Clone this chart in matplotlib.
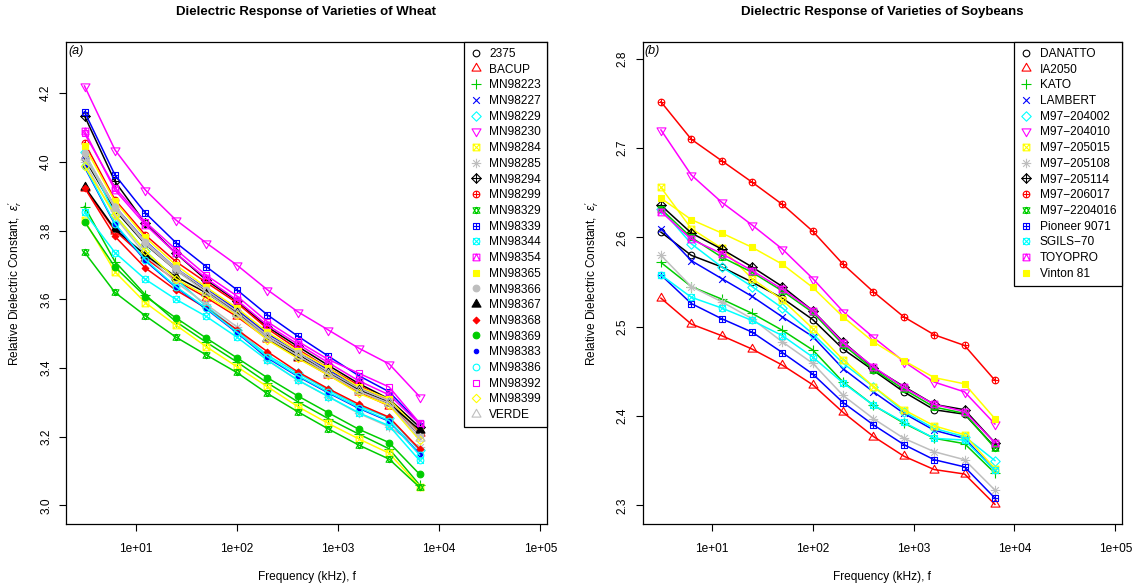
import numpy as np
import matplotlib
matplotlib.use('Agg')
import matplotlib.pyplot as plt
from matplotlib.path import Path
from matplotlib.markers import MarkerStyle
from matplotlib.lines import Line2D
from matplotlib.ticker import NullLocator

plt.rcParams['font.family'] = ['Liberation Sans', 'DejaVu Sans']
plt.rcParams['mathtext.fontset'] = 'custom'
plt.rcParams['mathtext.rm'] = 'Liberation Sans'
plt.rcParams['mathtext.it'] = 'Liberation Sans:italic'

# ---------------- data ----------------
freq = [3.125, 6.25, 12.5, 25, 50, 100, 200, 400, 800, 1600, 3200, 6400]

wheat_names = ["2375", "BACUP", "MN98223", "MN98227", "MN98229", "MN98230",
               "MN98284", "MN98285", "MN98294", "MN98299", "MN98329", "MN98339",
               "MN98344", "MN98354", "MN98365", "MN98366", "MN98367", "MN98368",
               "MN98369", "MN98383", "MN98386", "MN98392", "MN98399", "VERDE"]

w_2375    = [4.010, 3.860, 3.760, 3.685, 3.625, 3.565, 3.495, 3.440, 3.390, 3.340, 3.300, 3.205]
w_BACUP   = [3.925, 3.800, 3.720, 3.655, 3.605, 3.550, 3.485, 3.430, 3.380, 3.330, 3.290, 3.210]
w_MN98223 = [3.870, 3.710, 3.613, 3.535, 3.475, 3.418, 3.357, 3.302, 3.253, 3.208, 3.165, 3.060]
w_MN98227 = [4.020, 3.870, 3.770, 3.690, 3.630, 3.570, 3.500, 3.445, 3.395, 3.345, 3.305, 3.215]
w_MN98229 = [4.030, 3.846, 3.740, 3.660, 3.580, 3.510, 3.438, 3.385, 3.336, 3.290, 3.255, 3.160]
w_MN98230 = [4.221, 4.035, 3.918, 3.831, 3.764, 3.700, 3.628, 3.564, 3.511, 3.458, 3.412, 3.317]
w_MN98284 = [3.830, 3.680, 3.590, 3.525, 3.462, 3.404, 3.346, 3.288, 3.239, 3.194, 3.152, 3.055]
w_MN98285 = [4.000, 3.840, 3.730, 3.650, 3.585, 3.520, 3.423, 3.365, 3.317, 3.268, 3.229, 3.170]
w_MN98294 = [4.134, 3.943, 3.821, 3.734, 3.656, 3.595, 3.520, 3.463, 3.408, 3.355, 3.310, 3.228]
w_MN98299 = [4.056, 3.890, 3.787, 3.710, 3.649, 3.590, 3.515, 3.455, 3.400, 3.350, 3.305, 3.215]
w_MN98329 = [3.737, 3.620, 3.552, 3.490, 3.438, 3.387, 3.326, 3.273, 3.223, 3.176, 3.135, 3.053]
w_MN98339 = [4.146, 3.962, 3.851, 3.765, 3.695, 3.628, 3.555, 3.493, 3.435, 3.378, 3.331, 3.239]
w_MN98344 = [3.853, 3.736, 3.658, 3.600, 3.550, 3.490, 3.423, 3.365, 3.317, 3.270, 3.232, 3.131]
w_MN98354 = [4.090, 3.918, 3.817, 3.734, 3.661, 3.598, 3.525, 3.470, 3.416, 3.363, 3.322, 3.237]
w_MN98365 = [4.045, 3.885, 3.780, 3.700, 3.635, 3.575, 3.505, 3.450, 3.400, 3.345, 3.310, 3.215]
w_MN98366 = [4.025, 3.870, 3.768, 3.690, 3.627, 3.565, 3.495, 3.445, 3.390, 3.340, 3.305, 3.205]
w_MN98367 = [3.928, 3.804, 3.729, 3.666, 3.619, 3.560, 3.487, 3.433, 3.385, 3.336, 3.297, 3.220]
w_MN98368 = [3.925, 3.783, 3.691, 3.627, 3.574, 3.512, 3.448, 3.389, 3.340, 3.295, 3.257, 3.164]
w_MN98369 = [3.826, 3.694, 3.608, 3.546, 3.487, 3.430, 3.372, 3.319, 3.270, 3.222, 3.183, 3.091]
w_MN98383 = [3.985, 3.818, 3.712, 3.635, 3.572, 3.503, 3.430, 3.376, 3.328, 3.283, 3.245, 3.150]
w_MN98386 = [3.988, 3.820, 3.715, 3.637, 3.574, 3.505, 3.433, 3.378, 3.330, 3.285, 3.247, 3.147]
w_MN98392 = [4.083, 3.925, 3.825, 3.745, 3.670, 3.610, 3.535, 3.478, 3.425, 3.385, 3.345, 3.240]
w_MN98399 = [3.988, 3.846, 3.740, 3.660, 3.610, 3.555, 3.482, 3.428, 3.380, 3.326, 3.292, 3.190]
w_VERDE   = [4.015, 3.865, 3.762, 3.685, 3.620, 3.558, 3.488, 3.436, 3.384, 3.333, 3.298, 3.195]

wheat_series = [w_2375, w_BACUP, w_MN98223, w_MN98227, w_MN98229, w_MN98230,
                w_MN98284, w_MN98285, w_MN98294, w_MN98299, w_MN98329, w_MN98339,
                w_MN98344, w_MN98354, w_MN98365, w_MN98366, w_MN98367, w_MN98368,
                w_MN98369, w_MN98383, w_MN98386, w_MN98392, w_MN98399, w_VERDE]

soy_names = ["DANATTO", "IA2050", "KATO", "LAMBERT", "M97\u2212204002", "M97\u2212204010",
             "M97\u2212205015", "M97\u2212205108", "M97\u2212205114", "M97\u2212206017",
             "M97\u22122204016", "Pioneer 9071", "SGILS\u221270", "TOYOPRO", "Vinton 81"]

s_DANATTO  = [2.606, 2.580, 2.567, 2.550, 2.532, 2.508, 2.475, 2.451, 2.427, 2.407, 2.402, 2.365]
s_IA2050   = [2.532, 2.503, 2.490, 2.475, 2.457, 2.435, 2.404, 2.377, 2.355, 2.340, 2.335, 2.301]
s_KATO     = [2.572, 2.545, 2.531, 2.515, 2.496, 2.474, 2.438, 2.412, 2.392, 2.375, 2.369, 2.336]
s_LAMBERT  = [2.610, 2.574, 2.554, 2.534, 2.511, 2.489, 2.453, 2.427, 2.403, 2.384, 2.375, 2.339]
s_204002   = [2.632, 2.593, 2.567, 2.545, 2.521, 2.492, 2.459, 2.433, 2.405, 2.386, 2.377, 2.350]
s_204010   = [2.7205, 2.670, 2.6395, 2.614, 2.587, 2.554, 2.517, 2.488, 2.461, 2.438, 2.427, 2.391]
s_205015   = [2.656, 2.610, 2.588, 2.554, 2.530, 2.498, 2.463, 2.433, 2.407, 2.389, 2.379, 2.341]
s_205108   = [2.580, 2.545, 2.528, 2.509, 2.483, 2.459, 2.423, 2.397, 2.375, 2.360, 2.351, 2.317]
s_205114   = [2.636, 2.605, 2.587, 2.567, 2.545, 2.518, 2.483, 2.454, 2.433, 2.413, 2.407, 2.370]
s_206017   = [2.752, 2.710, 2.686, 2.662, 2.637, 2.607, 2.570, 2.539, 2.511, 2.491, 2.479, 2.440]
s_2204016  = [2.632, 2.600, 2.578, 2.561, 2.540, 2.516, 2.480, 2.452, 2.430, 2.410, 2.403, 2.364]
s_PIONEER  = [2.558, 2.526, 2.509, 2.494, 2.471, 2.447, 2.415, 2.390, 2.368, 2.351, 2.343, 2.308]
s_SGILS    = [2.558, 2.533, 2.521, 2.507, 2.490, 2.466, 2.437, 2.412, 2.393, 2.375, 2.373, 2.339]
s_TOYOPRO  = [2.629, 2.598, 2.582, 2.563, 2.542, 2.518, 2.482, 2.455, 2.432, 2.413, 2.405, 2.370]
s_VINTON   = [2.644, 2.620, 2.605, 2.589, 2.570, 2.544, 2.511, 2.483, 2.462, 2.443, 2.436, 2.397]

soy_series = [s_DANATTO, s_IA2050, s_KATO, s_LAMBERT, s_204002, s_204010, s_205015,
              s_205108, s_205114, s_206017, s_2204016, s_PIONEER, s_SGILS, s_TOYOPRO, s_VINTON]

x_tick_vals = [1e1, 1e2, 1e3, 1e4, 1e5]
x_tick_labels = ["1e+01", "1e+02", "1e+03", "1e+04", "1e+05"]
wheat_yticks = [3.0, 3.2, 3.4, 3.6, 3.8, 4.0, 4.2]
soy_yticks = [2.3, 2.4, 2.5, 2.6, 2.7, 2.8]

# ---------------- R-like plotting symbols ----------------
palette = ["black", "#FF0000", "#00CD00", "#0000FF", "#00FFFF", "#FF00FF", "#FFFF00", "#BEBEBE"]

MV, LN, CL = Path.MOVETO, Path.LINETO, Path.CLOSEPOLY
SQRC, DMDC, TRC0, TRC1, TRC2 = 0.886227, 1.253314, 1.555120, 0.866025, 0.5


def poly(pts):
    return Path(list(pts) + [pts[0]], [MV] + [LN] * (len(pts) - 1) + [CL])


def segs(*pairs):
    v, c = [], []
    for a, b in pairs:
        v += [a, b]
        c += [MV, LN]
    return Path(v, c)


def circle(r):
    p = Path.unit_circle()
    return Path(p.vertices * r, p.codes)


def comp(*ps):
    return Path.make_compound_path(*ps)


def tri(r, up=True):
    s = 1 if up else -1
    return poly([(0, s * r), (TRC1 * r, -s * TRC2 * r), (-TRC1 * r, -s * TRC2 * r)])


def square(h):
    return poly([(-h, -h), (h, -h), (h, h), (-h, h)])


def diamond(h):
    return poly([(0, -h), (h, 0), (0, h), (-h, 0)])


def plus(h):
    return segs(((-h, 0), (h, 0)), ((0, -h), (0, h)))


def cross(h):
    return segs(((-h, -h), (h, h)), ((-h, h), (h, -h)))


def star_david(r):
    yc = 0.5 * (TRC2 * r + r) / 2.0
    up = poly([(0, r - yc * 0.5), (TRC1 * r, -TRC2 * r - yc * 0.5), (-TRC1 * r, -TRC2 * r - yc * 0.5)])
    dn = poly([(0, -r + yc * 0.5), (TRC1 * r, TRC2 * r + yc * 0.5), (-TRC1 * r, TRC2 * r + yc * 0.5)])
    return comp(up, dn)


PCH = {
    1: (circle(1), False), 2: (tri(TRC0), False), 3: (plus(1.414), False),
    4: (cross(1), False), 5: (diamond(1.414), False), 6: (tri(TRC0, False), False),
    7: (comp(square(1), cross(1)), False), 8: (comp(cross(1), plus(1.414)), False),
    9: (comp(diamond(1.414), plus(1.414)), False), 10: (comp(circle(1), plus(1)), False),
    11: (star_david(1.2), False), 12: (comp(square(1), plus(1)), False),
    13: (comp(circle(1), cross(1)), False),
    14: (comp(square(1), Path([(-1, -1), (0, 1), (1, -1)], [MV, LN, LN])), False),
    15: (square(1), True), 16: (circle(1), True), 17: (tri(TRC0), True),
    18: (diamond(1), True), 19: (circle(1), True), 20: (circle(2 / 3), True),
    21: (circle(1), False), 22: (square(SQRC), False), 23: (diamond(DMDC), False),
    24: (tri(TRC0), False),
}
RPT = 2.4  # symbol radius in points


def marker_kw(i):
    col = palette[i % 8]
    path, filled = PCH[i + 1]
    ext = np.max(np.abs(path.vertices))
    return dict(marker=MarkerStyle(path), markersize=2 * RPT * ext,
                markerfacecolor=col if filled else 'none', markeredgecolor=col,
                markeredgewidth=0.8, color=col)


# ---------------- figure ----------------
W, H = 1144, 588
fig = plt.figure(figsize=(W / 100, H / 100), dpi=100)


def fx(px):
    return px / W


def fy(py):
    return 1 - py / H


panels = [
    dict(names=wheat_names, series=wheat_series, yticks=wheat_yticks,
         ylim=(2.946, 4.349), left=66, right=547, tag="(a)",
         title="Dielectric Response of Varieties of Wheat", ylab_x=15),
    dict(names=soy_names, series=soy_series, yticks=soy_yticks,
         ylim=(2.279, 2.819), left=642.5, right=1122, tag="(b)",
         title="Dielectric Response of Varieties of Soybeans", ylab_x=592),
]
top, bottom = 42, 524

for p in panels:
    ax = fig.add_axes([fx(p['left']), fy(bottom), fx(p['right'] - p['left']), (bottom - top) / H])
    for i, vals in enumerate(p['series']):
        kw = marker_kw(i)
        ax.plot(freq, vals, lw=1.1, zorder=2 + i * 0.01, **kw)
    ax.set_xscale('log')
    ax.set_xlim(10 ** 0.312, 10 ** 5.066)
    ax.set_ylim(*p['ylim'])
    ax.set_xticks(x_tick_vals)
    ax.set_xticklabels(x_tick_labels)
    ax.xaxis.set_minor_locator(NullLocator())
    ax.set_yticks(p['yticks'])
    ax.set_yticklabels(["%.1f" % v for v in p['yticks']], rotation=90, va='center')
    ax.tick_params(direction='out', length=5, width=0.8, labelsize=8.6, color='black')
    ax.tick_params(axis='x', pad=9)
    ax.tick_params(axis='y', pad=5)
    for s in ax.spines.values():
        s.set_linewidth(0.9)
    ax.text(0.004, 0.993, p['tag'], transform=ax.transAxes, ha='left', va='top',
            fontsize=9, style='italic')
    handles = []
    for i, name in enumerate(p['names']):
        kw = marker_kw(i)
        handles.append(Line2D([], [], linestyle='none', **kw))
    leg = ax.legend(handles, p['names'], loc='upper right', borderaxespad=0,
                    fancybox=False, framealpha=1, edgecolor='black', fontsize=8.6,
                    handlelength=1.0, handletextpad=0.6, labelspacing=0.31,
                    borderpad=0.5)
    leg.get_frame().set_linewidth(0.9)
    cx = (p['left'] + p['right']) / 2
    fig.text(fx(cx), fy(12), p['title'], ha='center', va='center',
             fontsize=9.5, fontweight='bold')
    fig.text(fx(cx), fy(577), "Frequency (kHz), f", ha='center', va='center', fontsize=8.6)
    fig.text(fx(p['ylab_x']), fy((top + bottom) / 2),
             r"Relative Dielectric Constant,  $\epsilon_r^{\prime}$",
             ha='center', va='center', rotation=90, fontsize=8.6)

fig.savefig("out.png", dpi=100)
